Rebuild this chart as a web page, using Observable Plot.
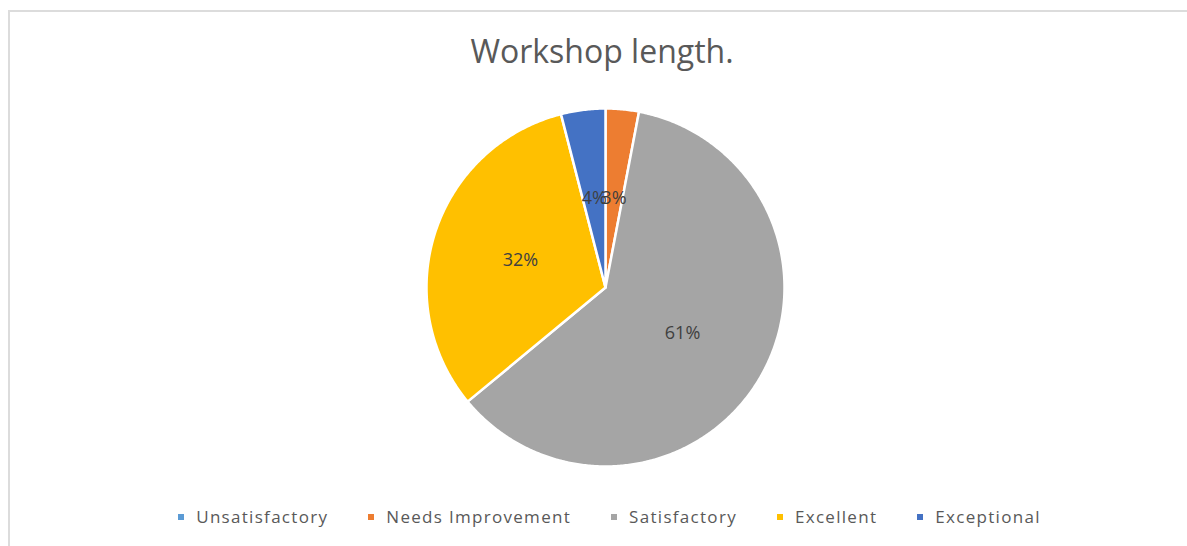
<!DOCTYPE html>
<html>
<head>
<meta charset="utf-8">
<script src="https://cdn.jsdelivr.net/npm/d3@7"></script>
<script src="https://cdn.jsdelivr.net/npm/@observablehq/plot@0.6"></script>
<style>
  html, body { margin: 0; padding: 0; background: #fff; }
  body { width: 1187px; height: 546px; position: relative; overflow: hidden; font-family: "Open Sans", sans-serif; }
  #frame { position: absolute; left: 8px; top: 10px; width: 1200px; height: 560px; border-top: 2px solid #dcdcdc; border-left: 2px solid #dcdcdc; box-sizing: border-box; pointer-events: none; }
  #title { box-sizing: border-box; width: 1187px; height: 100px; padding-top: 31px; padding-left: 17px; text-align: center; font-size: 32px; line-height: 40px; color: #595959; }
  #chart svg { display: block; }
  #legend { box-sizing: border-box; width: 1187px; margin-top: 37px; padding-left: 32px; display: flex; justify-content: center; gap: 40px; font-size: 17px; line-height: 20px; color: #595959; letter-spacing: 1.3px; }
  .item { display: flex; align-items: center; white-space: nowrap; }
  .sw { width: 6px; height: 6px; margin-right: 12px; }
</style>
</head>
<body>
<div id="frame"></div>
<div id="title">Workshop length.</div>
<div id="chart"></div>
<div id="legend"></div>
<script>
// ---- data ----
const categories = ["Unsatisfactory", "Needs Improvement", "Satisfactory", "Excellent", "Exceptional"];
const values = [0, 3, 61, 32, 4];
const labels = ["0%", "3%", "61%", "32%", "4%"];
// ---- styles ----
const palette = ["#5B9BD5", "#ED7D31", "#A5A5A5", "#FFC000", "#4472C4"];

const arcs = d3.pie().sort(null).value(d => d)(values);

// unit-circle slice polygons (y grows downward, start at 12 o'clock, clockwise)
const pt = (a, r) => [r * Math.sin(a), -r * Math.cos(a)];
const slices = arcs
  .map((a, i) => ({a, i}))
  .filter(({a}) => a.endAngle - a.startAngle > 0)
  .map(({a, i}) => {
    const n = Math.max(2, Math.ceil((a.endAngle - a.startAngle) / (Math.PI / 360)));
    const ring = [[0, 0]];
    for (let k = 0; k <= n; ++k) ring.push(pt(a.startAngle + (a.endAngle - a.startAngle) * k / n, 1));
    ring.push([0, 0]);
    return {type: "Feature", properties: {category: categories[i]}, geometry: {type: "Polygon", coordinates: [ring]}};
  });

const labelData = arcs
  .map((a, i) => ({a, i}))
  .filter(({a}) => a.endAngle - a.startAngle > 0)
  .map(({a, i}) => {
    const m = (a.startAngle + a.endAngle) / 2;
    const [x, y] = pt(m, 0.5);
    return {x, y, text: labels[i], category: categories[i]};
  });

const domain = {type: "MultiPoint", coordinates: [[-1, 0], [1, 0], [0, -1], [0, 1]]};

const chart = Plot.plot({
  width: 1187,
  height: 370,
  marginTop: 8,
  marginBottom: 4,
  marginLeft: 426,
  marginRight: 403,
  projection: {type: "identity", domain},
  color: {domain: categories, range: palette},
  style: {fontFamily: "Open Sans", background: "transparent", overflow: "visible"},
  marks: [
    Plot.geo(slices, {fill: d => d.properties.category, stroke: "white", strokeWidth: 2.5, strokeLinejoin: "round"}),
    Plot.text(labelData, {x: "x", y: "y", text: "text", fill: "#404040", fontSize: 18, textAnchor: "middle"})
  ]
});
document.getElementById("chart").appendChild(chart);

const legend = document.getElementById("legend");
categories.forEach((c, i) => {
  const item = document.createElement("div");
  item.className = "item";
  const sw = document.createElement("span");
  sw.className = "sw";
  sw.style.background = palette[i];
  const t = document.createElement("span");
  t.textContent = c;
  item.appendChild(sw);
  item.appendChild(t);
  legend.appendChild(item);
});
</script>
</body>
</html>
